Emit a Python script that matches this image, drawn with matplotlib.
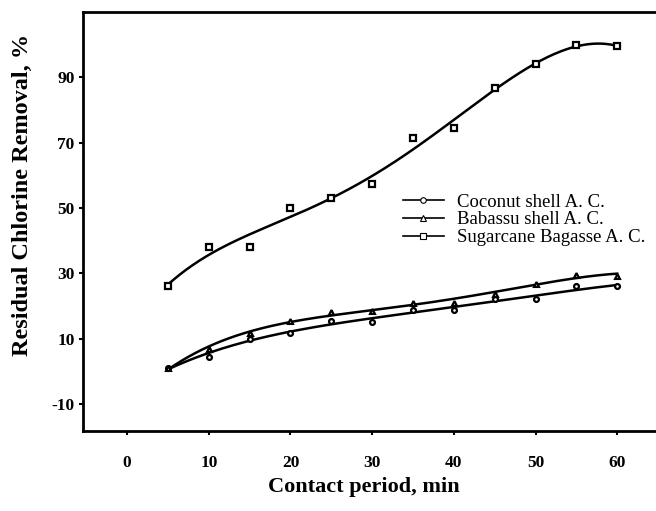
import numpy as np
import matplotlib
matplotlib.use("Agg")
import matplotlib.pyplot as plt

contact_min = [5, 10, 15, 20, 25, 30, 35, 40, 45, 50, 55, 60]
coconut = [1.0, 4.5, 10.0, 11.8, 15.5, 15.2, 18.6, 18.9, 22.0, 22.2, 26.0, 26.0]
babassu = [1.0, 6.7, 11.8, 15.5, 18.0, 18.3, 21.0, 21.0, 23.8, 26.8, 29.6, 29.3]
sugarcane = [26.0, 38.0, 38.0, 50.0, 53.0, 57.4, 71.5, 74.5, 86.8, 94.1, 99.8, 99.5]
series_names = ["Coconut shell A. C.", "Babassu shell A. C.", "Sugarcane Bagasse A. C."]
xticks = [0, 10, 20, 30, 40, 50, 60]
yticks = [-10, 10, 30, 50, 70, 90]

fig = plt.figure(figsize=(6.56, 5.11), dpi=100)
ax = fig.add_axes([0.1265, 0.1566, 0.8735, 0.8205])

serif = "Liberation Serif"
x = np.array(contact_min, dtype=float)
xs = np.linspace(x.min(), x.max(), 200)

specs = [
    (coconut, "o", 3.5, 4),
    (babassu, "^", 3.5, 4),
    (sugarcane, "s", 5, 5),
]
for (vals, mk, ms, deg), name in zip(specs, series_names):
    coef = np.polyfit(x, vals, deg)
    ax.plot(xs, np.polyval(coef, xs), color="black", lw=1.8, zorder=2)
    ax.plot(x, vals, linestyle="none", marker=mk, ms=ms, mfc="white",
            mec="black", mew=1.6, zorder=3)
    ax.plot([], [], color="black", lw=1.2, marker=mk, ms=4, mfc="white",
            mec="black", mew=0.8, label=name)

ax.set_xlim(-5.4, 64.75)
ax.set_ylim(-18.3, 110.1)
ax.set_xticks(xticks)
ax.set_yticks(yticks)
ax.set_xticklabels([str(t) for t in xticks], fontfamily=serif, fontweight="bold", fontsize=12.5)
ax.set_yticklabels([str(t) for t in yticks], fontfamily=serif, fontweight="bold", fontsize=12.5)
ax.tick_params(direction="out", length=3, width=1.5)
ax.tick_params(axis="x", pad=14)
ax.tick_params(axis="y", pad=3)
for s in ["left", "bottom", "top"]:
    ax.spines[s].set_linewidth(2)
ax.spines["right"].set_visible(False)

ax.set_xlabel("Contact period, min", fontfamily=serif, fontweight="bold", fontsize=16, va="center")
ax.set_ylabel("Residual Chlorine Removal, %", fontfamily=serif, fontweight="bold", fontsize=17.5, va="center")
ax.xaxis.set_label_coords(0.49, -0.134)
ax.yaxis.set_label_coords(-0.105, 0.563)

leg = ax.legend(loc="upper left", bbox_to_anchor=(0.558, 0.566), frameon=False,
                prop={"family": serif, "size": 13.5}, handlelength=2.2,
                labelspacing=0.03, handletextpad=0.7, borderpad=0,
                borderaxespad=0)

fig.savefig("out.png", dpi=100)
